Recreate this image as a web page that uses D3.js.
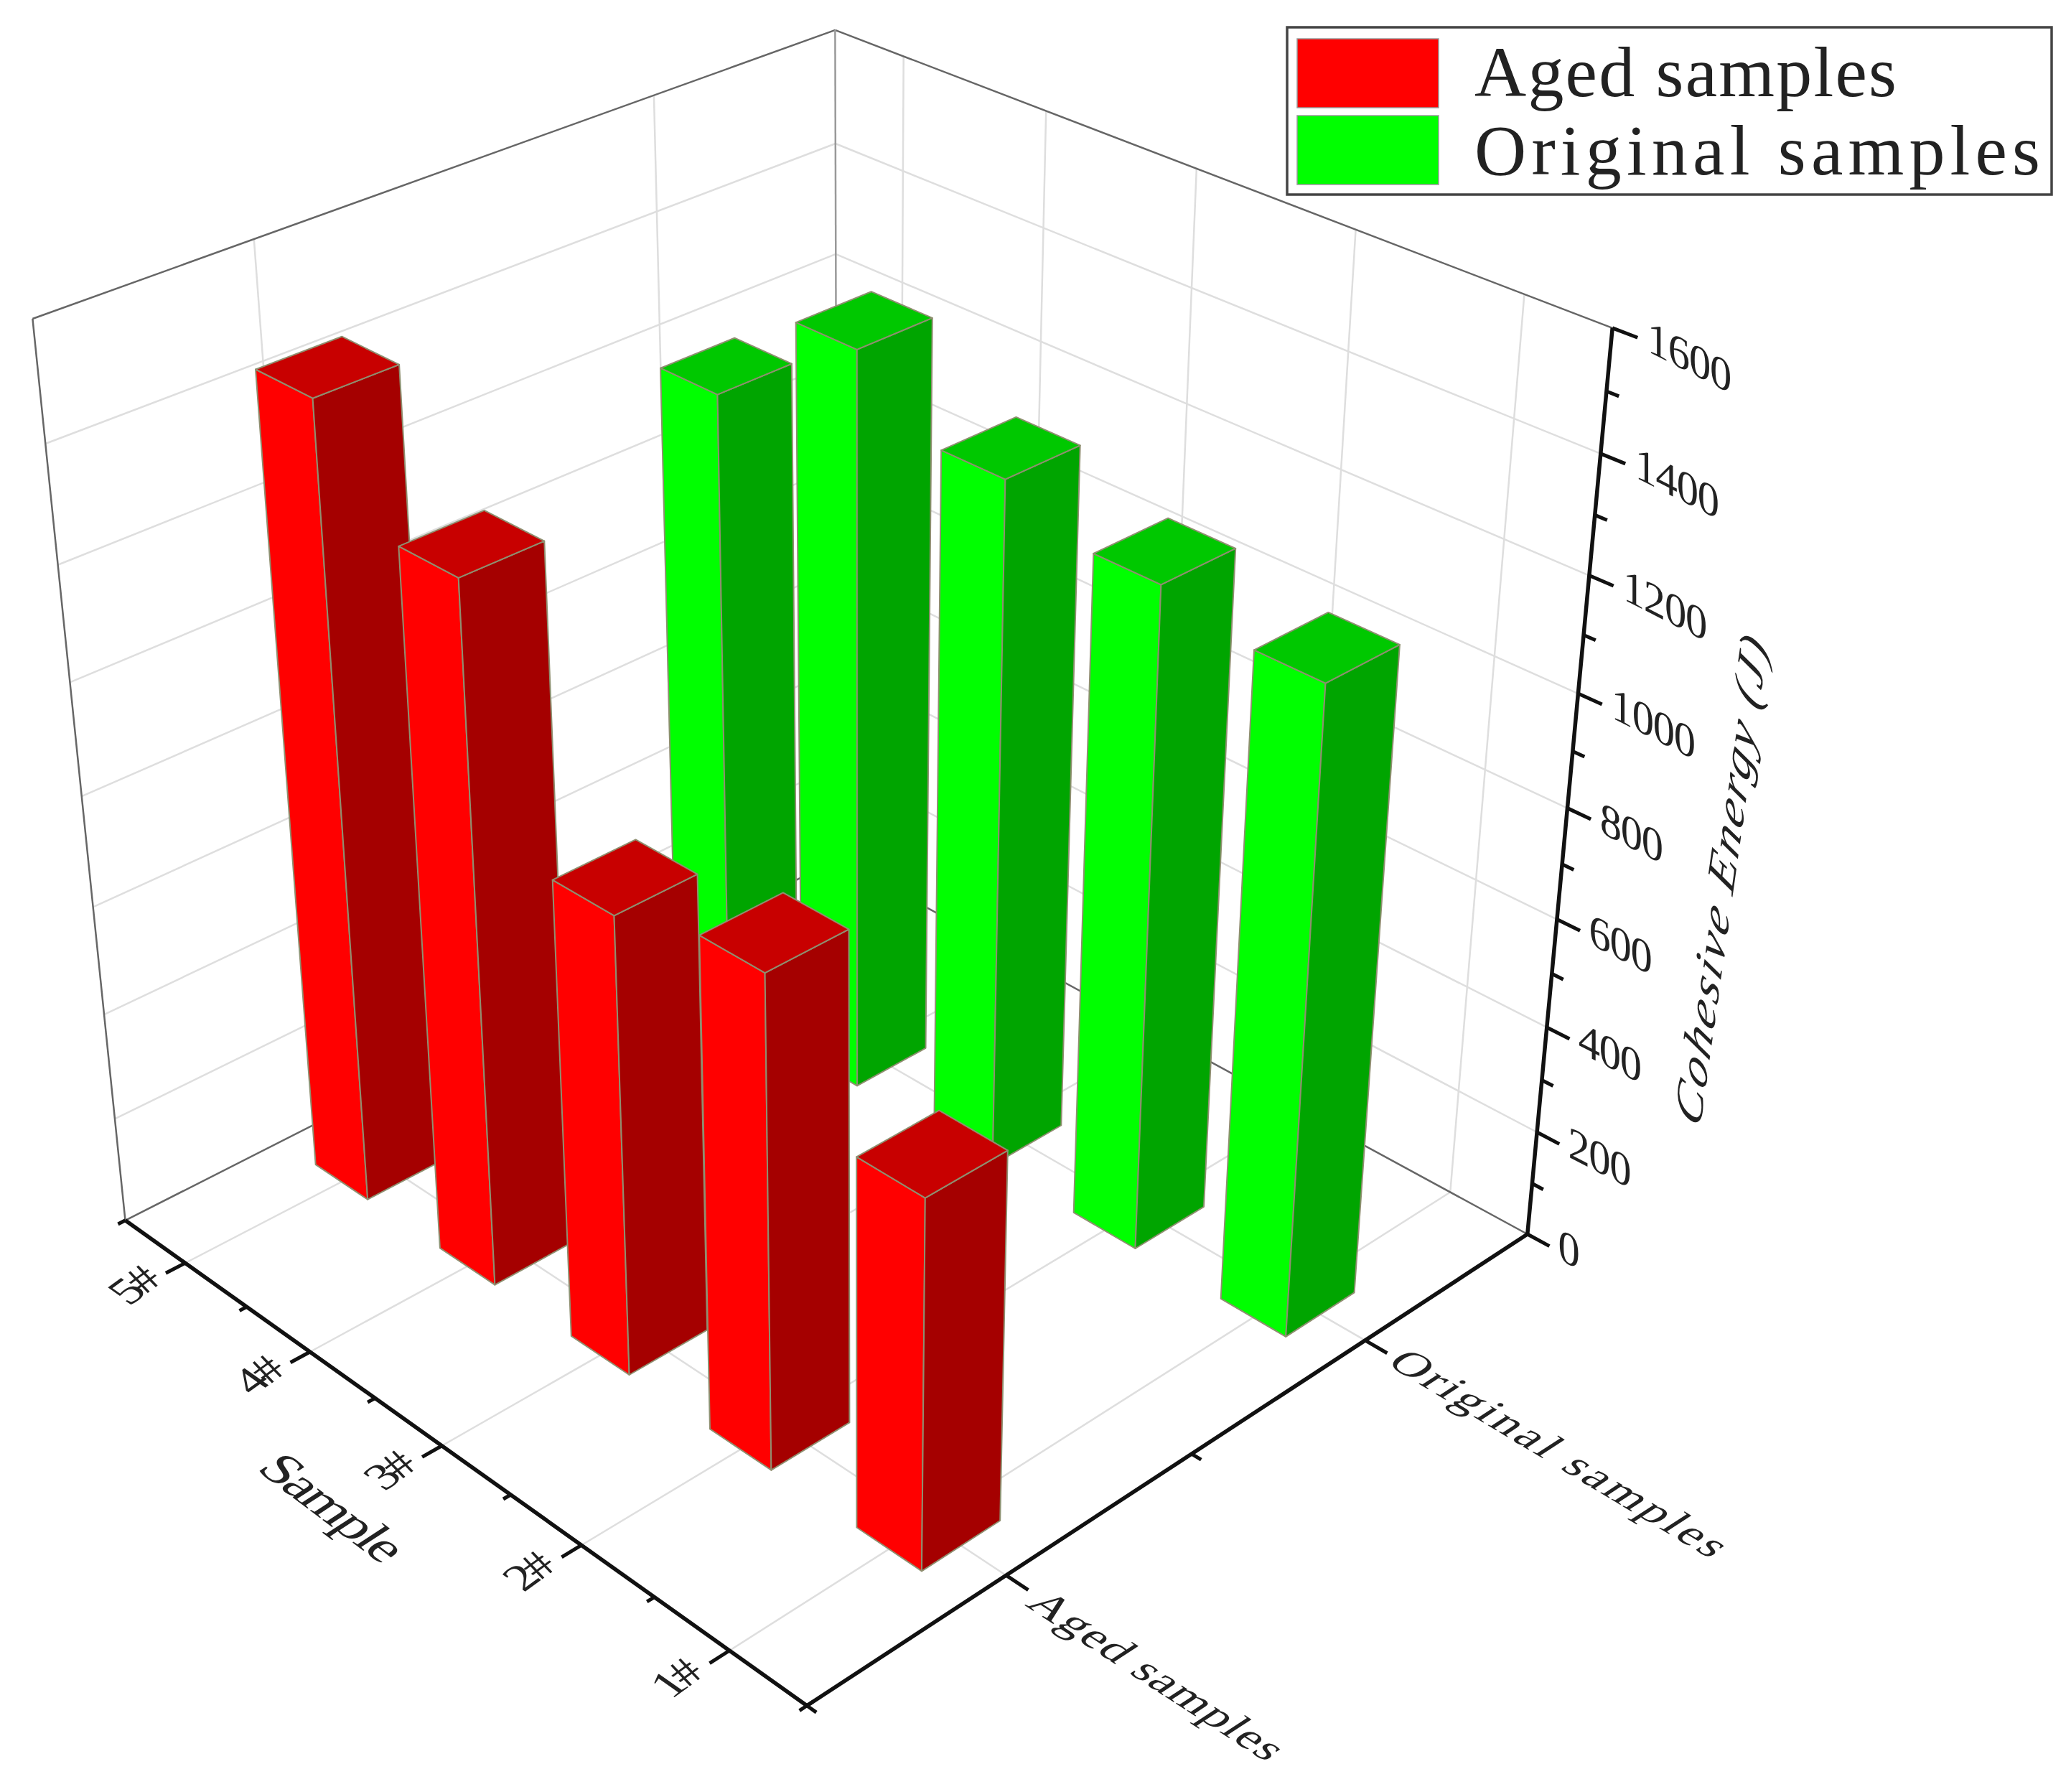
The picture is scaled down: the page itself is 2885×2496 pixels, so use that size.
<!DOCTYPE html>
<html><head><meta charset="utf-8">
<script src="https://d3js.org/d3.v7.min.js"></script>
<style>html,body{margin:0;background:#fff}svg{display:block}text{font-family:"Liberation Serif",serif;fill:#222}</style>
</head><body><svg id="c" width="2885" height="2496"></svg>
<script>
const samples=["5#","4#","3#","2#","1#"];
const groups=["Aged samples","Original samples"];
const agedValues=[1445,1270,839,890,669];
const originalValues=[1180,1368,1262,1206,1170];
const zTicks=[0,200,400,600,800,1000,1200,1400,1600];
const zMinor=[100,300,500,700,900,1100,1300,1500];
const redFaces=["#ff0000","#a50000","#c80000"];
const greenFaces=["#00ff00","#00a500","#00c800"];

// frame anchors used to calibrate the 3D camera: [x,y,z, screenX, screenY]
const frameAnchors=[[0,0,0,174,1697],[1,0,0,1124,2378],[1,1,0,2128,1716],[0,1,0,1167,1200],
 [0,0,1,46,445],[0,1,1,1163,40],[1,1,1,2246,458]];
function solve(A,b){const n=b.length,M=A.map((r,i)=>[...r,b[i]]);
 for(let i=0;i<n;i++){let p=i;for(let k=i+1;k<n;k++)if(Math.abs(M[k][i])>Math.abs(M[p][i]))p=k;[M[i],M[p]]=[M[p],M[i]];
  for(let k=0;k<n;k++)if(k!==i){const f=M[k][i]/M[i][i];for(let j=i;j<=n;j++)M[k][j]-=f*M[i][j];}}
 return M.map((r,i)=>r[n]/r[i]);}
const rows=[],rhs=[];
frameAnchors.forEach(([x,y,z,u,v])=>{
 rows.push([x,y,z,1,0,0,0,0,-u*x,-u*y,-u*z]);rhs.push(u);
 rows.push([0,0,0,0,x,y,z,1,-v*x,-v*y,-v*z]);rhs.push(v);});
const N=11,AtA=d3.range(N).map(i=>d3.range(N).map(j=>d3.sum(rows,r=>r[i]*r[j]))),Atb=d3.range(N).map(i=>d3.sum(rows,(r,k)=>r[i]*rhs[k]));
const P=solve(AtA,Atb);
function proj(x,y,z){const w=P[8]*x+P[9]*y+P[10]*z+1;return[(P[0]*x+P[1]*y+P[2]*z+P[3])/w,(P[4]*x+P[5]*y+P[6]*z+P[7])/w];}

const xS=d3.scaleBand().domain(samples).range([0,1]).paddingInner(.575).paddingOuter(.2875);
const yS=d3.scaleBand().domain(groups).range([0,1]).paddingInner(.796).paddingOuter(.398);
const zS=d3.scaleLinear().domain([0,1600]).range([0,1]);
const xC=s=>xS(s)+xS.bandwidth()/2,yC=g=>yS(g)+yS.bandwidth()/2;

const svg=d3.select("#c");
const line=(g,a,b,col,w)=>{const p=proj(...a),q=proj(...b);g.append("line").attr("x1",p[0]).attr("y1",p[1]).attr("x2",q[0]).attr("y2",q[1]).attr("stroke",col).attr("stroke-width",w).attr("stroke-linecap","butt");};
const grid=svg.append("g");
const GC="#dedede";
zTicks.slice(1,-1).forEach(v=>{const z=zS(v);line(grid,[0,0,z],[0,1,z],GC,2.5);line(grid,[0,1,z],[1,1,z],GC,2.5);});
samples.forEach(s=>{const x=xC(s);line(grid,[x,0,0],[x,1,0],GC,2.5);line(grid,[x,1,0],[x,1,1],GC,2.5);});
groups.forEach(g=>{const y=yC(g);line(grid,[0,y,0],[1,y,0],GC,2.5);line(grid,[0,y,0],[0,y,1],GC,2.5);});
const FC="#666";
line(grid,[0,0,1],[0,1,1],FC,2.5);line(grid,[0,1,1],[1,1,1],FC,2.5);
line(grid,[0,0,0],[0,0,1],FC,2.5);line(grid,[0,1,0],[0,1,1],"#999",2.5);
line(grid,[0,0,0],[0,1,0],FC,2.5);line(grid,[0,1,0],[1,1,0],FC,2.5);

const bars=[];
samples.forEach((s,i)=>{bars.push({s,g:groups[0],v:agedValues[i],c:redFaces});bars.push({s,g:groups[1],v:originalValues[i],c:greenFaces});});
bars.sort((a,b)=>(xC(a.s)-yC(a.g))-(xC(b.s)-yC(b.g)));
const poly=pts=>"M"+pts.map(p=>proj(...p).map(n=>n.toFixed(1)).join(",")).join("L")+"Z";
const bg=svg.append("g").attr("stroke","#8f8f70").attr("stroke-width",2).attr("stroke-linejoin","round");
bars.forEach(b=>{const x0=xS(b.s),x1=x0+xS.bandwidth(),y0=yS(b.g),y1=y0+yS.bandwidth(),z=zS(b.v);
 bg.append("path").attr("d",poly([[x0,y0,0],[x1,y0,0],[x1,y0,z],[x0,y0,z]])).attr("fill",b.c[0]);
 bg.append("path").attr("d",poly([[x1,y0,0],[x1,y1,0],[x1,y1,z],[x1,y0,z]])).attr("fill",b.c[1]);
 bg.append("path").attr("d",poly([[x0,y0,z],[x1,y0,z],[x1,y1,z],[x0,y1,z]])).attr("fill",b.c[2]);
});

const ax=svg.append("g"),AW=5.5,TC="#111";
line(ax,[0,0,0],[1,0,0],TC,AW);line(ax,[1,0,0],[1,1,0],TC,AW);line(ax,[1,1,0],[1,1,1],TC,AW);
[0,.2,.4,.6,.8,1].forEach(x=>line(ax,[x,0,0],[x,-.009,0],TC,5));
line(ax,[1,0,0],[1,.008,0],TC,5);
samples.forEach(s=>line(ax,[xC(s),0,0],[xC(s),-.024,0],TC,5));
[0,.5].forEach(y=>line(ax,[1,y,0],[1.012,y,0],TC,5));
groups.forEach(g=>line(ax,[1,yC(g),0],[1.028,yC(g),0],TC,5));
zTicks.forEach(v=>line(ax,[1,1,zS(v)],[1.028,1,zS(v)],TC,5));
zMinor.forEach(v=>line(ax,[1,1,zS(v)],[1.014,1,zS(v)],TC,5));

const tg=svg.append("g");
function label(str,p,base,down,size,len,sy,anchor,italic){
 const r=Math.PI/180,[e,f]=p;
 tg.append("text").text(str).attr("transform",`matrix(${Math.cos(base*r)},${Math.sin(base*r)},${Math.cos(down*r)*sy},${Math.sin(down*r)*sy},${e},${f})`)
  .attr("font-size",size).attr("text-anchor",anchor||"middle").attr("dominant-baseline","central")
  .attr("textLength",len).attr("lengthAdjust","spacing").attr("font-style",italic?"italic":"normal");
}
samples.forEach(s=>label(s,proj(xC(s)-.006,-.058,0),-36,35,68,62,.92));
label("Sample",proj(.5,-.13,0),37,147,80,222,.9);
label(groups[0],proj(1.187,yC(groups[0]),0),33,147,68,402,.9);
label(groups[1],proj(1.24,yC(groups[1]),0),31,147,68,528,.9);
zTicks.forEach(v=>{const w=String(v).length*33;label(String(v),proj(1.031,1.01,zS(v)),27,90,68,w,.95,"start");});
label("Cohesive Energy (J)",[2397,1225],-82,35,76,680,.85,"middle",true);

const lg=svg.append("g");
lg.append("rect").attr("x",1793).attr("y",38).attr("width",1065).attr("height",233).attr("fill","#fff").attr("stroke","#444").attr("stroke-width",3.5);
[[groups[0],redFaces[0],54,134],[groups[1],greenFaces[0],161,243]].forEach(([t,c,y,bl],i)=>{
 lg.append("rect").attr("x",1807).attr("y",y).attr("width",197).attr("height",96).attr("fill",c).attr("stroke","#999").attr("stroke-width",1.5);
 lg.append("text").text(t).attr("x",2054).attr("y",bl).attr("font-size",100).attr("textLength",i?788:588).attr("lengthAdjust","spacing");
});
</script></body></html>
